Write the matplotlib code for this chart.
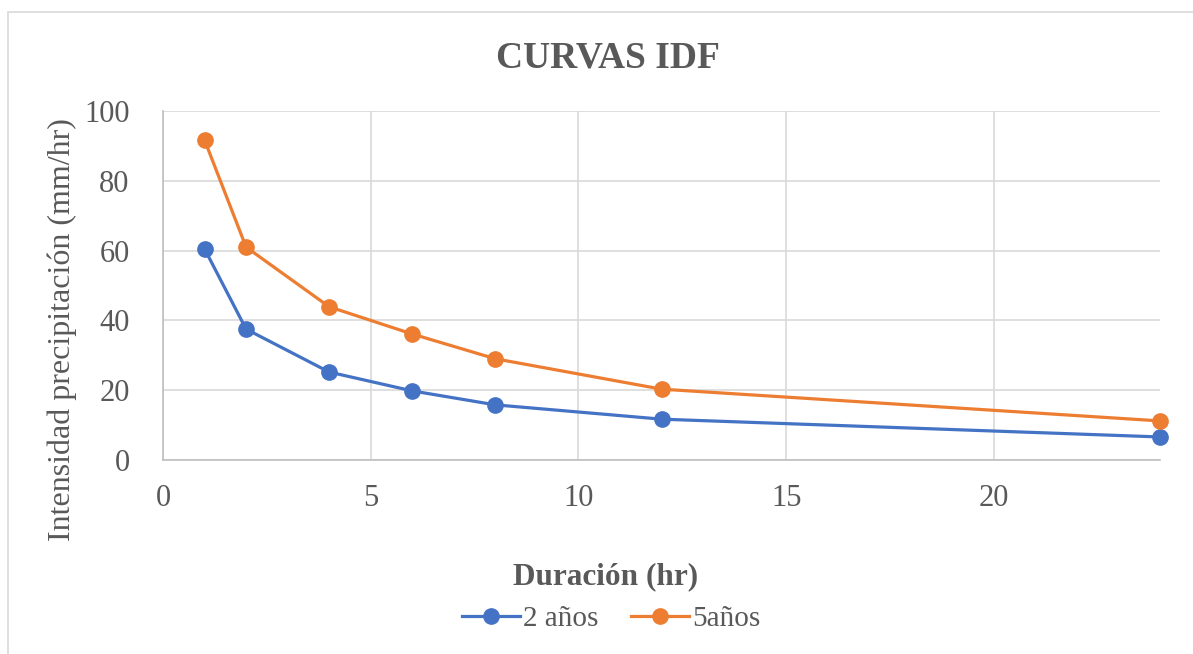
import matplotlib

matplotlib.use("Agg")
import matplotlib.pyplot as plt  # noqa: E402
from matplotlib.patches import Rectangle  # noqa: E402

# Curvas IDF: intensidad vs. duración para dos periodos de retorno
DURACION = [1, 2, 4, 6, 8, 12, 24]
INT_2 = [60.5, 37.5, 25.2, 19.8, 15.8, 11.7, 6.6]
INT_5 = [91.7, 61.0, 43.9, 36.1, 29.0, 20.3, 11.2]
SERIES = ["2 años", "5años"]
COLORS = ["#4472C4", "#ED7D31"]

TEXT = "#595959"
GRID = "#D9D9D9"
W, H = 1193, 654

plt.rcParams["font.family"] = ["Liberation Serif", "DejaVu Serif"]

fig = plt.figure(figsize=(W / 100, H / 100), dpi=100)
fig.patches.append(Rectangle((8 / W, -0.05), 1.2, 1 - 12 / H + 0.05,
                             transform=fig.transFigure, fill=False,
                             edgecolor=GRID, linewidth=1.2))

ax = fig.add_axes([163 / W, 1 - 460 / H, 997 / W, 349 / H])
for vals, name, color in zip([INT_2, INT_5], SERIES, COLORS):
    ax.plot(DURACION, vals, color=color, linewidth=2.3, marker="o",
            markersize=11, label=name, clip_on=False, zorder=3)

ax.set_xlim(0, 24)
ax.set_ylim(0, 100)
ax.set_xticks([0, 5, 10, 15, 20])
ax.set_yticks(range(0, 101, 20))
ax.grid(True, color=GRID, linewidth=1.2)
ax.set_axisbelow(True)
for side in ("top", "right"):
    ax.spines[side].set_visible(False)
for side in ("left", "bottom"):
    ax.spines[side].set_color("#BFBFBF")
    ax.spines[side].set_linewidth(1.2)
ax.tick_params(length=0, labelsize=22, labelcolor=TEXT)
ax.tick_params(axis="x", pad=17)
ax.tick_params(axis="y", pad=24)

# titles are laid out on the figure, the way the spreadsheet places them
fig.text(608 / W, 1 - 58 / H, "CURVAS IDF", fontsize=27, fontweight="bold",
         color=TEXT, ha="center", va="center")
fig.text(606 / W, 1 - 577 / H, "Duración (hr)", fontsize=22.5,
         fontweight="bold", color=TEXT, ha="center", va="center")
fig.text(62 / W, 1 - 330 / H, "Intensidad precipitación (mm/hr)",
         fontsize=23, color=TEXT, rotation=90, ha="center", va="center")

ax.legend(loc="center", bbox_to_anchor=(611 / W, 1 - 619 / H),
          bbox_transform=fig.transFigure, ncol=2, frameon=False,
          fontsize=21, labelcolor=TEXT, handlelength=2.0,
          handletextpad=0.1, columnspacing=1.1, borderaxespad=0,
          borderpad=0)

fig.savefig("out.png", dpi=100)
